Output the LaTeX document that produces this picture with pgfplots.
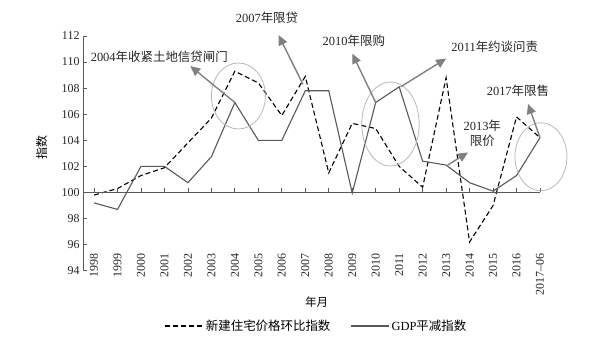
\documentclass[border=0pt]{standalone}
\usepackage{fontspec}
\setmainfont{Liberation Serif}
\newfontfamily\cjk{Noto Sans CJK SC}
\newcommand{\zh}[1]{{\cjk #1}}
\usepackage{pgfplots}
\pgfplotsset{compat=1.18}
\usetikzlibrary{arrows.meta}
\definecolor{arr}{gray}{0.5}
\definecolor{ell}{gray}{0.72}
\definecolor{gdp}{gray}{0.35}
\begin{document}
\begin{tikzpicture}
\path[use as bounding box] (-83bp,-80.3bp) rectangle (511bp,270.7bp);
\begin{axis}[
  scale only axis, width=457bp, height=234.7bp,
  at={(0,0)}, anchor=south west,
  xmin=-0.47, xmax=19, ymin=94, ymax=112,
  clip=false,
  axis lines*=left,
  x axis line style={draw=none},
  axis line style={gdp, line width=0.8bp},
  tick align=inside,
  major tick length=4bp,
  xtick={0,...,19},
  xticklabels={1998,1999,2000,2001,2002,2003,2004,2005,2006,2007,2008,2009,2010,2011,2012,2013,2014,2015,2016,2017--06},
  xtick style={draw=none},
  major x tick style={draw=none},
  y tick style={gdp, line width=0.8bp},
  ytick={94,96,...,112},
  /pgf/number format/assume math mode=true,
  yticklabel style={font=\fontsize{12}{12}\selectfont, text=black!85},
  xticklabel style={font=\fontsize{12}{12}\selectfont, text=black!85, rotate=90, anchor=east, xshift=21bp},
  xlabel={\zh{年月}},
  xlabel style={at={(axis description cs:0.511,-0.132)}, anchor=center, font=\fontsize{11.5}{12}\selectfont},
  ylabel={\zh{指数}},
  ylabel style={at={(axis description cs:-0.0908,0.523)}, anchor=center, font=\fontsize{12}{12}\selectfont},
  legend style={at={(axis description cs:0.511,-0.2356)}, anchor=center, draw=none, fill=none,
    legend columns=2, font=\fontsize{12.5}{13}\selectfont,
    /tikz/every even column/.append style={column sep=18bp}},
  legend image code/.code={\draw[#1] (0bp,0bp) -- (38bp,0bp);},
]
\addplot[black, line width=1.1bp, dash pattern=on 5bp off 3bp] coordinates {
(0,99.8) (1,100.3) (2,101.3) (3,101.9) (4,103.8) (5,105.7) (6,109.3) (7,108.4) (8,105.9) (9,108.9)
(10,101.5) (11,105.3) (12,104.9) (13,102.0) (14,100.4) (15,108.8) (16,96.2) (17,99.0) (18,105.8) (19,104.2)};
\addlegendentry{\zh{新建住宅价格环比指数}}
\addplot[gdp, line width=1.1bp] coordinates {
(0,99.2) (1,98.7) (2,102.0) (3,102.0) (4,100.75) (5,102.75) (6,106.9) (7,104.0) (8,104.0) (9,107.8)
(10,107.8) (11,99.95) (12,106.9) (13,108.1) (14,102.4) (15,102.1) (16,100.75) (17,100.1) (18,101.3) (19,104.2)};
\addlegendentry{GDP\zh{平减指数}}
% axis at 100
\draw[gdp, line width=0.8bp] (axis cs:-0.47,100) -- (axis cs:19,100);
\pgfplotsinvokeforeach{0,...,19}{\draw[gdp, line width=0.8bp] (axis cs:#1,100) -- ([yshift=4bp]axis cs:#1,100);}
% ellipses
\draw[ell, line width=0.8bp] (axis cs:6.15,107.4) ellipse [x radius=27bp, y radius=33bp];
\draw[ell, line width=0.8bp] (axis cs:12.63,105.25) ellipse [x radius=28.7bp, y radius=42bp];
\draw[ell, line width=0.8bp] (axis cs:19.04,102.74) ellipse [x radius=26bp, y radius=34bp];
% arrows
\tikzset{ann/.style={arr, line width=1.4bp, -{Triangle[length=10bp,width=9bp]}}}
\draw[ann] (axis cs:6,106.9) -- (axis cs:4.1,109.7);
\draw[ann] (axis cs:8.9,108.3) -- (axis cs:7.86,112.07);
\draw[ann] (axis cs:12,106.9) -- (axis cs:11.0,110.65);
\draw[ann] (axis cs:13.06,108.1) -- (axis cs:15.0,110.27);
\draw[ann] (axis cs:15.07,102.1) -- (axis cs:15.93,103.07);
\draw[ann] (axis cs:19,104.2) -- (axis cs:18.49,106.8);
% labels
\tikzset{lab/.style={font=\fontsize{12.5}{14}\selectfont, text=black!85, inner sep=0pt}}
\node[lab] at (axis cs:2.78,110.4) {2004\zh{年收紧土地信贷闸门}};
\node[lab] at (axis cs:7.37,113.4) {2007\zh{年限贷}};
\node[lab] at (axis cs:11.07,111.6) {2010\zh{年限购}};
\node[lab] at (axis cs:17.07,111.17) {2011\zh{年约谈问责}};
\node[lab, align=center] at (axis cs:16.54,104.55) {2013\zh{年}\\[1bp]\zh{限价}};
\node[lab] at (axis cs:18.06,107.8) {2017\zh{年限售}};
\end{axis}
\end{tikzpicture}
\end{document}
